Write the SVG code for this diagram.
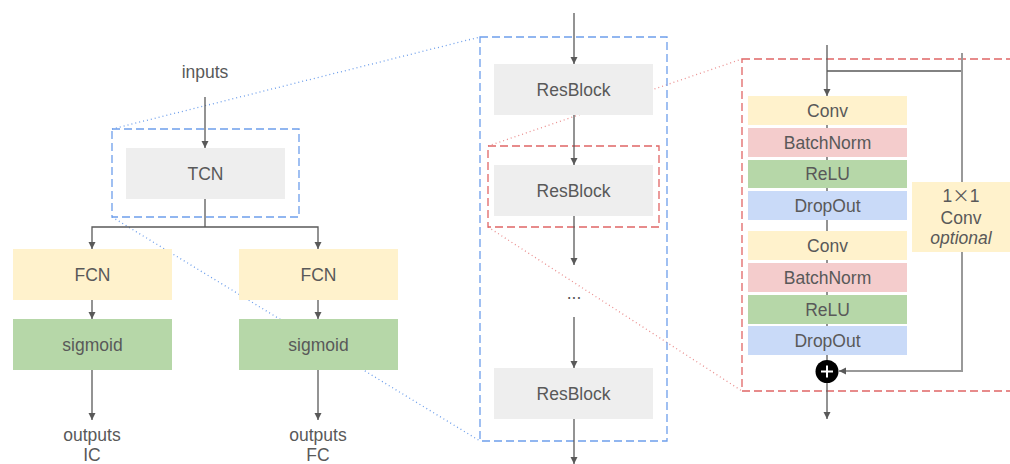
<svg xmlns="http://www.w3.org/2000/svg" width="1010" height="464" viewBox="0 0 1010 464">
<style>
text{font-family:"Liberation Sans",Arial,sans-serif;font-size:17.5px;fill:#595959;text-anchor:middle}
.it{font-style:italic}
.cjk{font-family:"Noto Sans CJK SC",sans-serif}
.ln{stroke:#595959;stroke-width:1.3;fill:none}
.arr{stroke:#595959;stroke-width:1.3;fill:none;marker-end:url(#ah)}
.skip{stroke:#999999;stroke-width:2;fill:none}
.gray{fill:#eeeeee}
.yel{fill:#fff2cc}
.grn{fill:#b6d7a8}
.red{fill:#f4cccc}
.blu{fill:#c9daf8}
.bdash{fill:none;stroke:#6d9eeb;stroke-width:1.3;stroke-dasharray:8,4}
.rdash{fill:none;stroke:#e06666;stroke-width:1.3;stroke-dasharray:8,4}
.bdot{fill:none;stroke:#6d9eeb;stroke-width:1.3;stroke-dasharray:1,3}
.rdot{fill:none;stroke:#ea8f8f;stroke-width:1.3;stroke-dasharray:1,3}
</style>
<defs>
<marker id="ah" markerUnits="userSpaceOnUse" markerWidth="8" markerHeight="8" refX="7" refY="3.5" orient="auto">
<path d="M0,0 L7,3.5 L0,7 z" fill="#595959"/>
</marker>
</defs>
<g id="zoom-lines">
<line class="bdot" x1="112" y1="129" x2="480" y2="37"/>
<line class="bdot" x1="112" y1="217" x2="480" y2="441"/>
<line class="rdot" x1="488" y1="146" x2="742" y2="59"/>
<line class="rdot" x1="488" y1="227" x2="742" y2="391"/>
</g>
<g id="frames">
<rect class="bdash" x="112" y="129" width="187" height="88"/>
<rect class="bdash" x="480" y="37" width="187" height="404"/>
<rect class="rdash" x="488" y="146" width="171" height="81"/>
<rect class="rdash" x="742" y="59" width="300" height="332"/>
</g>
<g id="connectors">
<line class="arr" x1="205" y1="97" x2="205" y2="148"/>
<polyline class="ln" points="205,199 205,227"/>
<polyline class="arr" points="205,227 92,227 92,249"/>
<polyline class="arr" points="205,227 318,227 318,249"/>
<line class="arr" x1="92" y1="300" x2="92" y2="319"/>
<line class="arr" x1="318" y1="300" x2="318" y2="319"/>
<line class="arr" x1="92" y1="370" x2="92" y2="420"/>
<line class="arr" x1="318" y1="370" x2="318" y2="420"/>
<line class="arr" x1="574" y1="13" x2="574" y2="64"/>
<line class="arr" x1="574" y1="115" x2="574" y2="165"/>
<line class="arr" x1="574" y1="216" x2="574" y2="265"/>
<line class="arr" x1="574" y1="317" x2="574" y2="368"/>
<line class="arr" x1="574" y1="419" x2="574" y2="464"/>
<line class="arr" x1="827" y1="45" x2="827" y2="96"/>
<line class="ln" x1="827" y1="125" x2="827" y2="362"/>
<line class="ln" x1="827" y1="71" x2="962" y2="71"/>
<line class="skip" x1="962" y1="53" x2="962" y2="182"/>
<polyline class="skip" points="962,252 962,371 845,371"/>
<line class="arr" x1="846" y1="371" x2="839" y2="371"/>
<line class="arr" x1="827" y1="383" x2="827" y2="419"/>
</g>
<g id="inputs"><text x="205" y="78">inputs</text></g>
<g id="tcn"><rect class="gray" x="126" y="148" width="159" height="51"/><text x="205.5" y="180">TCN</text></g>
<g id="fcn-ic"><rect class="yel" x="13" y="249" width="159" height="51"/><text x="92.5" y="281">FCN</text></g>
<g id="fcn-fc"><rect class="yel" x="239" y="249" width="159" height="51"/><text x="318.5" y="281">FCN</text></g>
<g id="sigmoid-ic"><rect class="grn" x="13" y="319" width="159" height="51"/><text x="92.5" y="351">sigmoid</text></g>
<g id="sigmoid-fc"><rect class="grn" x="239" y="319" width="159" height="51"/><text x="318.5" y="351">sigmoid</text></g>
<g id="outputs-ic"><text x="92" y="441">outputs</text><text x="92" y="461">IC</text></g>
<g id="outputs-fc"><text x="318" y="441">outputs</text><text x="318" y="461">FC</text></g>
<g id="resblock-1"><rect class="gray" x="494" y="64" width="159" height="51"/><text x="573.5" y="96">ResBlock</text></g>
<g id="resblock-2"><rect class="gray" x="494" y="165" width="159" height="51"/><text x="573.5" y="197">ResBlock</text></g>
<g id="ellipsis"><text x="574" y="299">...</text></g>
<g id="resblock-n"><rect class="gray" x="494" y="368" width="159" height="51"/><text x="573.5" y="400">ResBlock</text></g>
<g id="conv-1"><rect class="yel" x="748" y="96" width="159" height="29"/><text x="827.5" y="117">Conv</text></g>
<g id="batchnorm-1"><rect class="red" x="748" y="128" width="159" height="29"/><text x="827.5" y="149">BatchNorm</text></g>
<g id="relu-1"><rect class="grn" x="748" y="160" width="159" height="28"/><text x="827.5" y="180">ReLU</text></g>
<g id="dropout-1"><rect class="blu" x="748" y="191" width="159" height="29"/><text x="827.5" y="212">DropOut</text></g>
<g id="conv-2"><rect class="yel" x="748" y="231" width="159" height="29"/><text x="827.5" y="252">Conv</text></g>
<g id="batchnorm-2"><rect class="red" x="748" y="263" width="159" height="29"/><text x="827.5" y="284">BatchNorm</text></g>
<g id="relu-2"><rect class="grn" x="748" y="295" width="159" height="29"/><text x="827.5" y="316">ReLU</text></g>
<g id="dropout-2"><rect class="blu" x="748" y="326" width="159" height="29"/><text x="827.5" y="347">DropOut</text></g>
<g id="conv-1x1"><rect class="yel" x="912" y="182" width="98" height="70"/><text x="961" y="202">1<tspan class="cjk">×</tspan>1</text><text x="961" y="224">Conv</text><text class="it" x="961" y="244">optional</text></g>
<g id="add"><circle cx="827" cy="371.5" r="11.5" fill="#000"/><path d="M821,371.5 H833 M827,365.5 V377.5" stroke="#fff" stroke-width="2"/></g>
</svg>
